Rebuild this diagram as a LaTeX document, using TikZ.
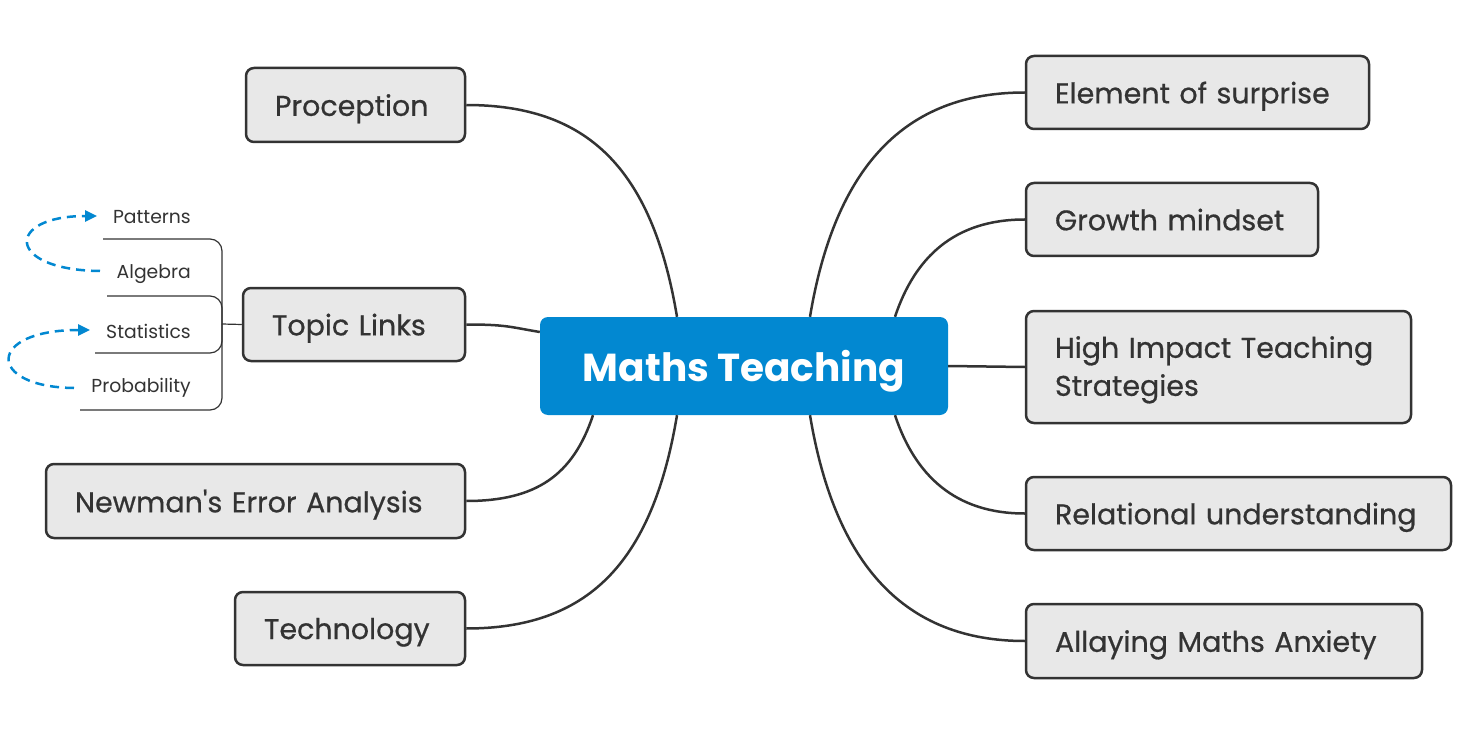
\documentclass[tikz,border=0pt]{standalone}
\usepackage{fontspec}
\setmainfont{Poppins}[Ligatures=TeXOff]
\newfontfamily\medfont{Poppins}[Ligatures=TeXOff,FakeBold=0.6]
\usetikzlibrary{arrows.meta,calc}
\definecolor{ink}{HTML}{333333}
\definecolor{boxfill}{HTML}{E8E8E8}
\definecolor{mainblue}{HTML}{0288D1}
\begin{document}
\begin{tikzpicture}[x=1pt,y=-1pt,
  topic/.style={draw=ink, line width=2.5pt, fill=boxfill, rounded corners=8pt, text=ink,
    font=\medfont\fontsize{28.5}{38}\selectfont, inner xsep=29pt, inner ysep=0pt, align=left,
    text depth=0pt},
  central/.style={fill=mainblue, rounded corners=8pt, text=white, text depth=0pt,
    font=\fontsize{39}{44}\selectfont\bfseries, minimum width=408pt, minimum height=98pt},
  conn/.style={draw=ink, line width=2.5pt},
  sub/.style={text=ink, font=\fontsize{18.8}{22}\selectfont, anchor=east, inner sep=0pt},
  subline/.style={draw=ink, line width=1.2pt, rounded corners=12pt},
  loop/.style={draw=mainblue, line width=2.5pt, dash pattern=on 9pt off 6pt,
    -{Triangle[length=12pt,width=11pt]}}]
\useasboundingbox (0,0) rectangle (1462,730);

\node[central] (c) at (744,366) {Maths Teaching};

\node[topic, minimum width=219pt, minimum height=74pt, text width=161pt] (p) at (355.5,105) {Proception};
\node[topic, minimum width=222pt, minimum height=73pt, text width=164pt] (t) at (354,324.5) {Topic Links};
\node[topic, minimum width=419pt, minimum height=74pt, text width=361pt] (n) at (255.5,501) {Newman's Error Analysis};
\node[topic, minimum width=230pt, minimum height=73pt, text width=172pt] (tech) at (350,628.5) {Technology};

\node[topic, minimum width=343pt, minimum height=73pt, text width=285pt] (e) at (1197.5,92.5) {Element of surprise};
\node[topic, minimum width=292pt, minimum height=73pt, text width=234pt] (g) at (1172,219.5) {Growth mindset};
\node[topic, minimum width=385pt, minimum height=112pt, text width=327pt, text depth=40pt] (h) at (1218.5,367) {High Impact Teaching\\Strategies};
\node[topic, minimum width=425pt, minimum height=73pt, text width=367pt] (r) at (1238.5,513.5) {Relational understanding};
\node[topic, minimum width=396pt, minimum height=74pt, text width=338pt] (a) at (1224,641) {Allaying Maths Anxiety};

% connectors
\draw[conn] (p.east) .. controls +(120,0) and +(-25,-150) .. ([xshift=-67pt]c.north);
\draw[conn] (t.east) .. controls +(40,0) and +(-30,-5) .. ([yshift=34pt]c.west);
\draw[conn] (n.east) .. controls +(70,0) and +(-20,60) .. ([xshift=-151pt]c.south);
\draw[conn] (tech.east) .. controls +(120,0) and +(-25,150) .. ([xshift=-67pt]c.south);

\draw[conn] ([xshift=66pt]c.north) .. controls +(25,-150) and +(-120,0) .. (e.west);
\draw[conn] ([xshift=151pt]c.north) .. controls +(20,-60) and +(-70,0) .. (g.west);
\draw[conn] (c.east) -- (h.west);
\draw[conn] ([xshift=151pt]c.south) .. controls +(20,60) and +(-70,0) .. (r.west);
\draw[conn] ([xshift=66pt]c.south) .. controls +(25,150) and +(-120,0) .. (a.west);

% subtopics
\node[sub] (s1) at (191,217) {Patterns};
\node[sub] (s2) at (191,274) {Algebra};
\node[sub] (s3) at (191,331) {Statistics};
\node[sub] (s4) at (191,388) {Probability};
\coordinate (j) at (222,324);
\coordinate (u1) at (103,239);
\coordinate (u2) at (107,296);
\coordinate (u3) at (95,353);
\coordinate (u4) at (80,410);
\draw[subline] (u1) -- (u1 -| j) -- (j);
\draw[subline] (u2) -- (u2 -| j) -- (j);
\draw[subline] (u3) -- (u3 -| j) -- (j);
\draw[subline] (u4) -- (u4 -| j) -- (j);
\draw[draw=ink, line width=1.2pt] (j) -- (t.west);

% relationship arrows
\coordinate (l1s) at (100,271);
\coordinate (l1e) at (97,216);
\coordinate (l2s) at (74,388);
\coordinate (l2e) at (90,330);
\draw[loop] (l1s) .. controls (5,270) and (5,216) .. (l1e);
\draw[loop] (l2s) .. controls (-14,387) and (-14,330) .. (l2e);
\end{tikzpicture}
\end{document}
